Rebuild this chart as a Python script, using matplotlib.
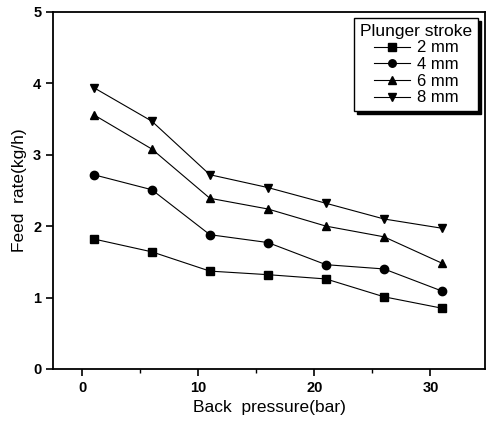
import matplotlib
matplotlib.use("Agg")
import matplotlib.pyplot as plt
from matplotlib.ticker import MultipleLocator

# --- DATA ---
back_pressure = [1, 6, 11, 16, 21, 26, 31]
feed_2mm = [1.82, 1.64, 1.37, 1.32, 1.26, 1.01, 0.85]
feed_4mm = [2.72, 2.51, 1.88, 1.77, 1.46, 1.40, 1.09]
feed_6mm = [3.56, 3.08, 2.39, 2.24, 2.00, 1.85, 1.48]
feed_8mm = [3.94, 3.47, 2.72, 2.54, 2.32, 2.10, 1.97]
labels = ["2 mm", "4 mm", "6 mm", "8 mm"]
markers = ["s", "o", "^", "v"]

plt.rcParams["font.family"] = ["Liberation Sans", "DejaVu Sans"]

fig = plt.figure(figsize=(4.87, 4.26), dpi=100)
ax = fig.add_axes([0.109, 0.134, 0.887, 0.838])

for ys, lab, mk in zip([feed_2mm, feed_4mm, feed_6mm, feed_8mm], labels, markers):
    ax.plot(back_pressure, ys, color="black", lw=0.8, marker=mk, ms=6,
            markerfacecolor="black", markeredgecolor="black", label=lab)

ax.set_xlim(-2.5, 34.7)
ax.set_ylim(0, 5)
ax.xaxis.set_major_locator(MultipleLocator(10))
ax.xaxis.set_minor_locator(MultipleLocator(5))
ax.yaxis.set_major_locator(MultipleLocator(1))
ax.tick_params(axis="both", which="major", direction="out", length=5, width=1.2,
               labelsize=10.5)
ax.tick_params(axis="x", which="minor", direction="out", length=3, width=1)
for t in ax.get_xticklabels() + ax.get_yticklabels():
    t.set_fontweight("bold")
for s in ax.spines.values():
    s.set_linewidth(1.3)

ax.set_xlabel("Back  pressure(bar)", fontsize=12.5)
ax.set_ylabel("Feed  rate(kg/h)", fontsize=12.5)

leg = ax.legend(title="Plunger stroke", loc="upper right", bbox_to_anchor=(0.984, 0.983),
                borderaxespad=0, frameon=True, fancybox=False,
                shadow={"color": "black", "alpha": 1},
                edgecolor="black", fontsize=12, title_fontsize=12.5,
                handlelength=2.2, labelspacing=0.1, borderpad=0.35,
                handletextpad=0.4, markerscale=0.9)
leg.get_frame().set_linewidth(1.0)

fig.savefig("out.png", dpi=100)
